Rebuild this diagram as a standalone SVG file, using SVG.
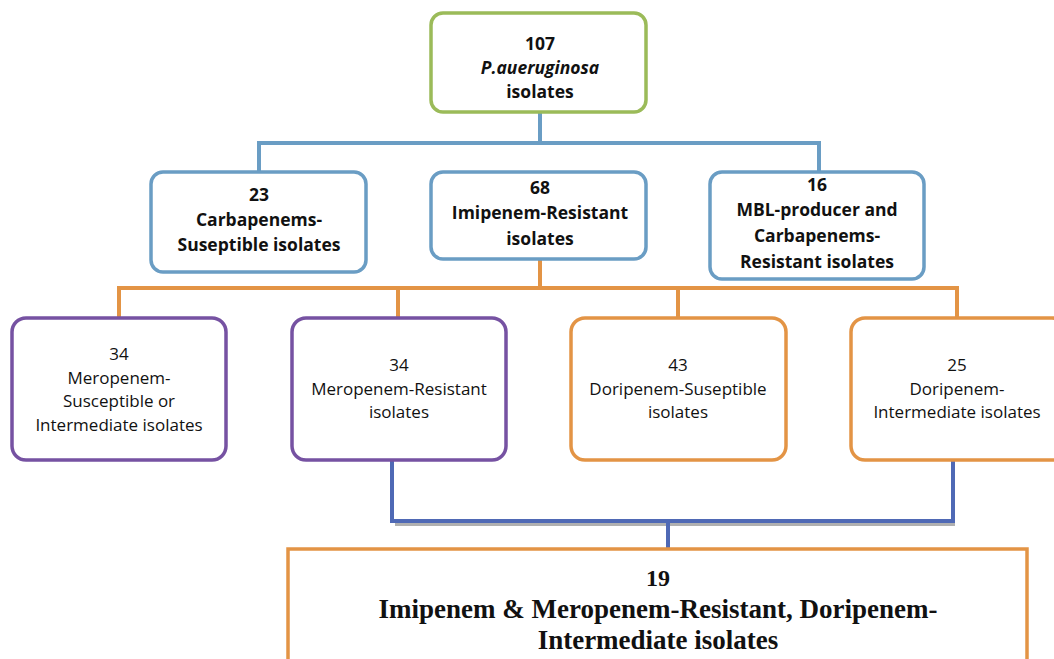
<svg xmlns="http://www.w3.org/2000/svg" width="1054" height="659" viewBox="0 0 1054 659">
<style>
.box{fill:#fff;stroke-width:3.5}
.g{stroke:#9BBB59}.b{stroke:#6A9DC4}.p{stroke:#7652A2}.o{stroke:#E39445}
.t{font-family:"Open Sans","Liberation Sans",sans-serif;text-anchor:middle;fill:#111}
.t1{font-size:17.5px;font-weight:bold}
.t2{font-size:17.5px;font-weight:bold}
.t3{font-size:17px}
.tb{font-family:"Liberation Serif","Times New Roman",serif;font-weight:bold;text-anchor:middle;fill:#111}
.c{fill:none;stroke-width:4;stroke-linejoin:miter}
</style>
<rect width="1054" height="659" fill="#fff"/>
<g id="connectors">
<path class="c" stroke="#6A9DC4" d="M540 112V143M259 172V143H819V172"/>
<path class="c" stroke="#E39445" d="M540 259V288M119 318V288H957V318M398 288V318M678 288V318"/>
<path class="c" stroke="#B0B0B0" stroke-width="3" d="M395 524H955"/>
<path class="c" stroke="#4F69B5" d="M392 460V521H953V460M668 521V549"/>
</g>
<g id="n107">
<rect class="box g" x="431" y="13" width="215" height="99" rx="12"/>
<text class="t t1" x="540" y="50">107</text>
<text class="t t1" x="540" y="74" font-style="italic">P.aueruginosa</text>
<text class="t t1" x="540" y="98">isolates</text>
</g>
<g id="n23">
<rect class="box b" x="151" y="172" width="215" height="100" rx="12"/>
<text class="t t2" x="259" y="201">23</text>
<text class="t t2" x="259" y="226">Carbapenems-</text>
<text class="t t2" x="259" y="251">Suseptible isolates</text>
</g>
<g id="n68">
<rect class="box b" x="431" y="172" width="215" height="87" rx="12"/>
<text class="t t2" x="540" y="194">68</text>
<text class="t t2" x="540" y="219">Imipenem-Resistant</text>
<text class="t t2" x="540" y="245">isolates</text>
</g>
<g id="n16">
<rect class="box b" x="710" y="172" width="214" height="107" rx="12"/>
<text class="t t2" x="817" y="191">16</text>
<text class="t t2" x="817" y="216">MBL-producer and</text>
<text class="t t2" x="817" y="242">Carbapenems-</text>
<text class="t t2" x="817" y="268">Resistant isolates</text>
</g>
<g id="n34a">
<rect class="box p" x="12" y="318" width="214" height="142" rx="14"/>
<text class="t t3" x="119" y="360">34</text>
<text class="t t3" x="119" y="383.5">Meropenem-</text>
<text class="t t3" x="119" y="407">Susceptible or</text>
<text class="t t3" x="119" y="430.5">Intermediate isolates</text>
</g>
<g id="n34b">
<rect class="box p" x="292" y="318" width="214" height="142" rx="14"/>
<text class="t t3" x="399" y="371">34</text>
<text class="t t3" x="399" y="394.5">Meropenem-Resistant</text>
<text class="t t3" x="399" y="418">isolates</text>
</g>
<g id="n43">
<rect class="box o" x="571" y="318" width="215" height="142" rx="14"/>
<text class="t t3" x="678" y="371">43</text>
<text class="t t3" x="678" y="394.5">Doripenem-Suseptible</text>
<text class="t t3" x="678" y="418">isolates</text>
</g>
<g id="n25">
<rect class="box o" x="851" y="318" width="215" height="142" rx="14"/>
<text class="t t3" x="957" y="371">25</text>
<text class="t t3" x="957" y="394.5">Doripenem-</text>
<text class="t t3" x="957" y="418">Intermediate isolates</text>
</g>
<g id="n19">
<rect fill="#fff" stroke="#E39445" stroke-width="3.5" x="288" y="549" width="739" height="120"/>
<text class="tb" x="658" y="586" font-size="24">19</text>
<text class="tb" x="658" y="618" font-size="27">Imipenem &amp; Meropenem-Resistant, Doripenem-</text>
<text class="tb" x="658" y="649" font-size="27">Intermediate isolates</text>
</g>
</svg>
